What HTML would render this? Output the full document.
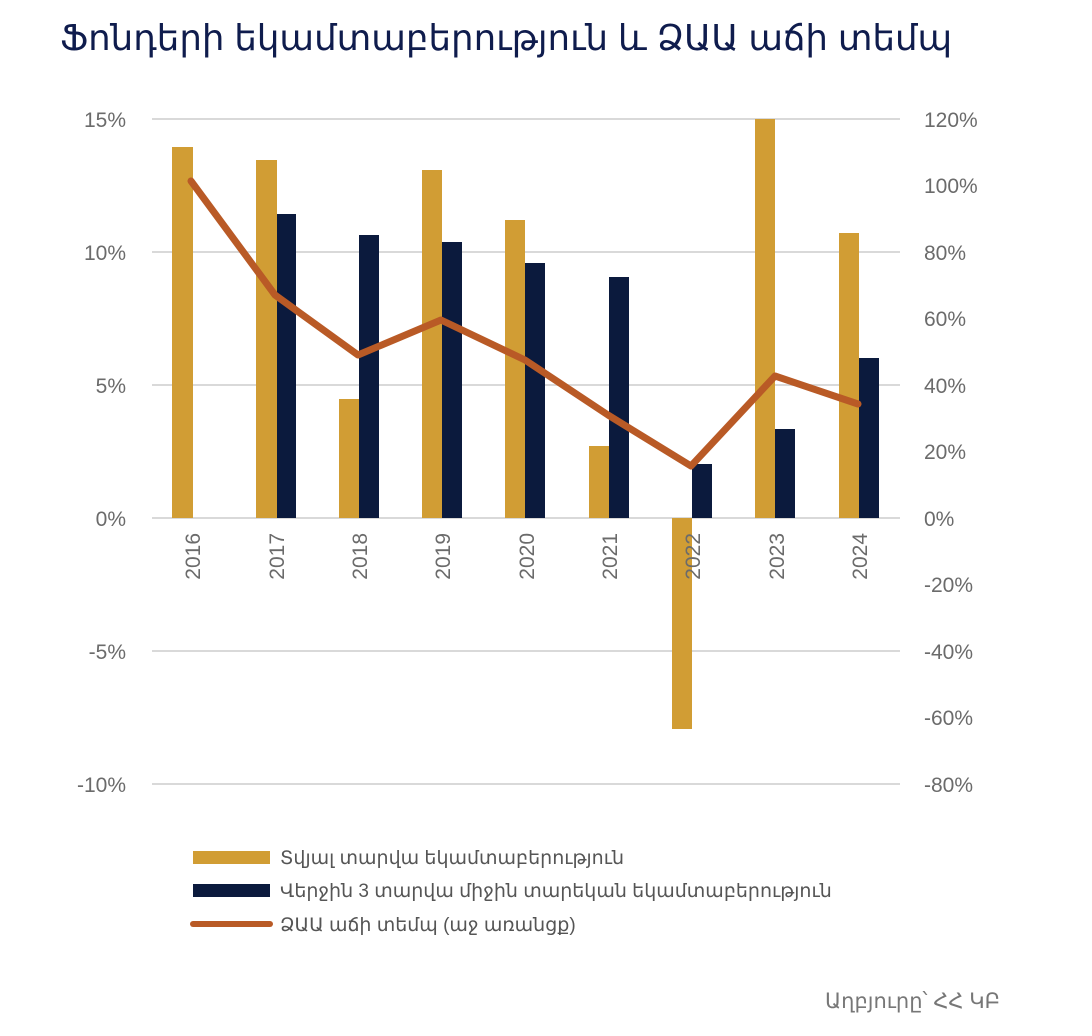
<!DOCTYPE html>
<html><head><meta charset="utf-8"><style>
html,body{margin:0;padding:0;background:#fff;width:1092px;height:1036px;overflow:hidden}
svg text{font-family:"Liberation Sans","DejaVu Sans",sans-serif}
</style></head><body>
<svg width="1092" height="1036" viewBox="0 0 1092 1036">
<text x="60" y="50" font-size="35.6" fill="#0f1c4d">Ֆոնդերի եկամտաբերություն և ՁԱԱ աճի տեմպ</text>
<g stroke="#d9d9d9" stroke-width="2">
<line x1="152" y1="119" x2="900" y2="119"/>
<line x1="152" y1="252" x2="900" y2="252"/>
<line x1="152" y1="385" x2="900" y2="385"/>
<line x1="152" y1="518" x2="900" y2="518"/>
<line x1="152" y1="651" x2="900" y2="651"/>
<line x1="152" y1="784" x2="900" y2="784"/>
</g>
<g font-size="21" fill="#6b6b6b" text-anchor="end">
<text x="126" y="127">15%</text><text x="126" y="260">10%</text><text x="126" y="393">5%</text>
<text x="126" y="526">0%</text><text x="126" y="659">-5%</text><text x="126" y="792">-10%</text>
</g>
<g font-size="21" fill="#6b6b6b" text-anchor="start">
<text x="924" y="127">120%</text><text x="924" y="193">100%</text><text x="924" y="260">80%</text>
<text x="924" y="326">60%</text><text x="924" y="393">40%</text><text x="924" y="459">20%</text>
<text x="924" y="526">0%</text><text x="924" y="592">-20%</text><text x="924" y="659">-40%</text>
<text x="924" y="725">-60%</text><text x="924" y="792">-80%</text>
</g>
<g fill="#d19d34">
<rect x="172" y="147" width="21" height="371"/>
<rect x="256" y="160" width="21" height="358"/>
<rect x="339" y="399" width="20" height="119"/>
<rect x="422" y="170" width="20" height="348"/>
<rect x="505" y="220" width="20" height="298"/>
<rect x="589" y="446" width="20" height="72"/>
<rect x="672" y="518" width="20" height="211"/>
<rect x="755" y="119" width="20" height="399"/>
<rect x="839" y="233" width="20" height="285"/>
</g>
<g fill="#0b1a3d">
<rect x="277" y="214" width="19" height="304"/>
<rect x="359" y="235" width="20" height="283"/>
<rect x="442" y="242" width="20" height="276"/>
<rect x="525" y="263" width="20" height="255"/>
<rect x="609" y="277" width="20" height="241"/>
<rect x="692" y="464" width="20" height="54"/>
<rect x="775" y="429" width="20" height="89"/>
<rect x="859" y="358" width="20" height="160"/>
</g>
<polyline fill="none" stroke="#b95a26" stroke-width="7" stroke-linejoin="round" stroke-linecap="round"
points="191,181 275,295 358,355 441,320 525,360 608,415 691,466 775,376 858,404"/>
<g font-size="21" fill="#6b6b6b" text-anchor="end">
<text transform="translate(200,533) rotate(-90)">2016</text>
<text transform="translate(284,533) rotate(-90)">2017</text>
<text transform="translate(367,533) rotate(-90)">2018</text>
<text transform="translate(450,533) rotate(-90)">2019</text>
<text transform="translate(534,533) rotate(-90)">2020</text>
<text transform="translate(617,533) rotate(-90)">2021</text>
<text transform="translate(700,533) rotate(-90)">2022</text>
<text transform="translate(784,533) rotate(-90)">2023</text>
<text transform="translate(867,533) rotate(-90)">2024</text>
</g>
<rect x="193" y="851" width="77" height="13" fill="#d19d34"/>
<rect x="193" y="884" width="77" height="13" fill="#0b1a3d"/>
<line x1="193" y1="924" x2="270" y2="924" stroke="#b95a26" stroke-width="6" stroke-linecap="round"/>
<g font-size="19" fill="#555">
<text x="280" y="864">Տվյալ տարվա եկամտաբերություն</text>
<text x="280" y="897">Վերջին 3 տարվա միջին տարեկան եկամտաբերություն</text>
<text x="280" y="931">ՁԱԱ աճի տեմպ (աջ առանցք)</text>
</g>
<text x="1000" y="1008" font-size="21" fill="#777" text-anchor="end">Աղբյուրը՝ ՀՀ ԿԲ</text>
</svg>
</body></html>
